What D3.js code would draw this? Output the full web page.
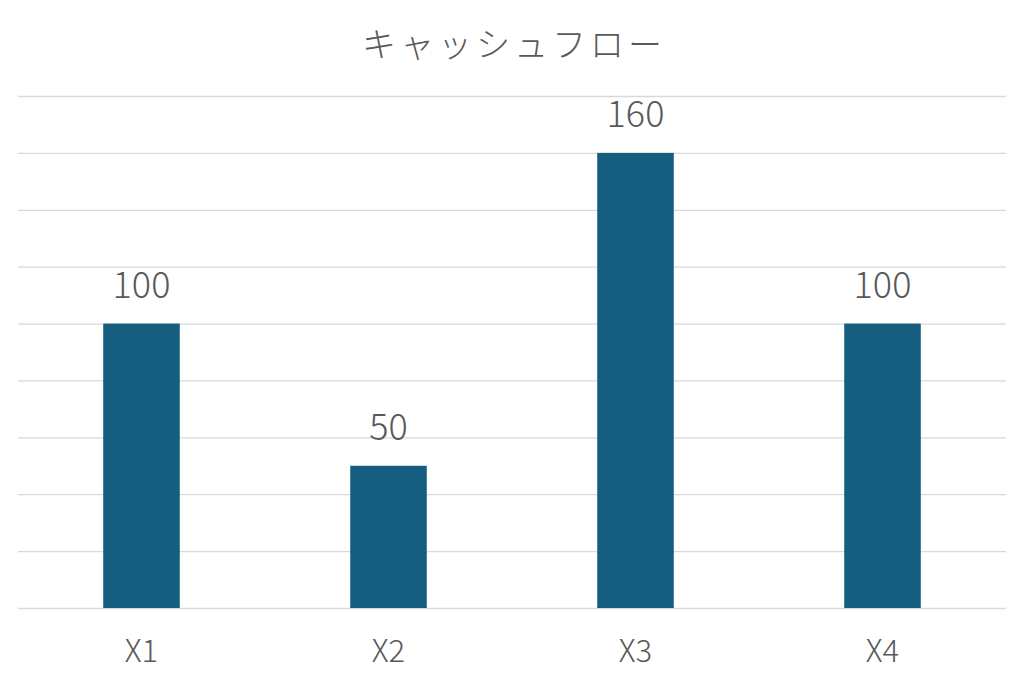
<!DOCTYPE html>
<html><head><meta charset="utf-8">
<script src="https://cdn.jsdelivr.net/npm/d3@7"></script>
<style>body{margin:0;background:#fff;}svg{display:block;}</style>
</head><body>
<script>
const categories = ["X1","X2","X3","X4"];
const values = [100,50,160,100];
const yTicks = [0,20,40,60,80,100,120,140,160,180];
const title = "キャッシュフロー";

const W=1024,H=682;
const svg=d3.select("body").append("svg").attr("width",W).attr("height",H);
const font="'Noto Sans CJK JP','Noto Sans',sans-serif";
const x=d3.scaleBand().domain(categories).range([18,1006]).paddingInner(0.69).paddingOuter(0.345);
const y=d3.scaleLinear().domain([0,180]).range([608,96]);

svg.append("g").selectAll("line").data(yTicks).join("line")
  .attr("x1",18).attr("x2",1006).attr("y1",d=>y(d)+0.5).attr("y2",d=>y(d)+0.5)
  .attr("stroke","#d9d9d9").attr("stroke-width",1.3);

svg.append("g").selectAll("rect").data(values).join("rect")
  .attr("x",(d,i)=>x(categories[i])).attr("width",x.bandwidth())
  .attr("y",d=>y(d)).attr("height",d=>y(0)-y(d)).attr("fill","#165E80");

svg.append("g").selectAll("text").data(values).join("text")
  .attr("x",(d,i)=>x(categories[i])+x.bandwidth()/2).attr("y",d=>y(d)-26)
  .attr("text-anchor","middle").attr("font-family",font).attr("font-size",36).attr("font-weight",300)
  .attr("fill","#595959").text(d=>d);

svg.append("g").selectAll("text").data(categories).join("text")
  .attr("x",d=>x(d)+x.bandwidth()/2).attr("y",662)
  .attr("text-anchor","middle").attr("font-family",font).attr("font-size",31).attr("font-weight",300)
  .attr("fill","#595959").text(d=>d);

svg.append("text").attr("x",514).attr("y",57).attr("text-anchor","middle")
  .attr("font-family",font).attr("font-size",34).attr("font-weight",300).attr("letter-spacing",4).attr("fill","#595959").text(title);
</script>
</body></html>
